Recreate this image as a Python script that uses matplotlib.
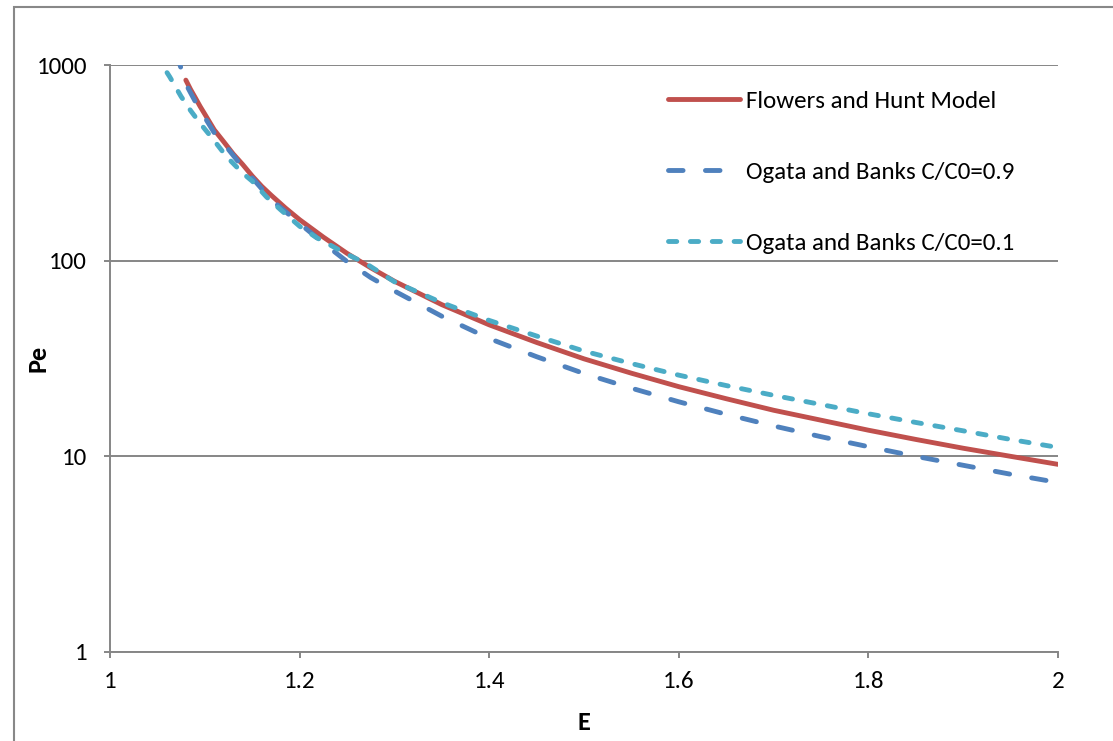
import matplotlib
matplotlib.use("Agg")
import matplotlib.pyplot as plt
from matplotlib.patches import Rectangle
from matplotlib.ticker import FixedLocator, NullLocator

plt.rcParams['font.family'] = ['Carlito', 'Lato', 'DejaVu Sans']

# Flowers and Hunt Model
E_fh = [1.08, 1.085, 1.09, 1.095, 1.10, 1.11, 1.12, 1.13, 1.14, 1.15, 1.16, 1.17, 1.185,
        1.20, 1.225, 1.25, 1.275, 1.30, 1.35, 1.40, 1.45, 1.50, 1.55, 1.60, 1.65,
        1.70, 1.75, 1.80, 1.85, 1.90, 1.95, 2.00]
Pe_fh = [837, 750, 680, 615, 561, 466, 405, 351, 310, 271, 240, 216, 186,
         162, 132, 109, 92, 78.5, 59.6, 47.0, 38.2, 31.5, 26.6, 22.7, 19.7,
         17.2, 15.3, 13.6, 12.2, 11.0, 10.0, 9.1]

# Ogata and Banks C/C0=0.9
E_ob9 = [1.07, 1.08, 1.09, 1.10, 1.11, 1.125, 1.14, 1.15, 1.17, 1.20, 1.225, 1.25,
         1.275, 1.30, 1.35, 1.40, 1.45, 1.50, 1.55, 1.60, 1.65, 1.70, 1.75, 1.80,
         1.85, 1.90, 1.95, 2.00]
Pe_ob9 = [1150, 800, 650, 540, 450, 370, 300, 265, 205, 155, 123, 99,
          82, 70, 52, 40, 32.3, 26.5, 22.3, 19.0, 16.4, 14.3, 12.6, 11.2,
          10.0, 9.0, 8.1, 7.35]

# Ogata and Banks C/C0=0.1
E_ob1 = [1.05, 1.055, 1.063, 1.075, 1.085, 1.095, 1.11, 1.123, 1.14, 1.15, 1.165,
         1.18, 1.20, 1.218, 1.25, 1.271, 1.30, 1.35, 1.40, 1.45, 1.50, 1.55, 1.60,
         1.65, 1.70, 1.75, 1.80, 1.85, 1.90, 1.95, 2.00]
Pe_ob1 = [1150, 1000, 870, 690, 585, 504, 410, 340, 280, 255, 212,
          182, 150, 131, 108, 96, 78, 61, 49.5, 41.2, 34.5, 29.8, 26.0,
          23.0, 20.5, 18.4, 16.5, 14.9, 13.5, 12.2, 11.1]

labels = ['Flowers and Hunt Model', 'Ogata and Banks C/C0=0.9', 'Ogata and Banks C/C0=0.1']
x_ticks = [1, 1.2, 1.4, 1.6, 1.8, 2]
x_tick_labels = ['1', '1.2', '1.4', '1.6', '1.8', '2']
y_ticks = [1, 10, 100, 1000]
y_tick_labels = ['1', '10', '100', '1000']

W, H = 1113, 741
fig = plt.figure(figsize=(W / 100, H / 100), dpi=100)
ax = fig.add_axes([110 / W, 1 - 652 / H, (1058 - 110) / W, (652 - 65) / H])

grid_c = '#868686'
ax.set_yscale('log')
ax.set_xlim(1, 2)
ax.set_ylim(1, 1000)

lw = 3.5
ax.plot(E_fh, Pe_fh, color='#C0504D', lw=lw, solid_capstyle='round', solid_joinstyle='round',
        label=labels[0], zorder=3)
ax.plot(E_ob9, Pe_ob9, color='#4F81BD', lw=lw, dashes=(3.0, 4.6), dash_capstyle='round',
        label=labels[1], zorder=4)
ax.plot(E_ob1, Pe_ob1, color='#4BACC6', lw=lw, dashes=(1.7, 2.8), dash_capstyle='round',
        label=labels[2], zorder=5)

ax.xaxis.set_major_locator(FixedLocator(x_ticks))
ax.set_xticklabels(x_tick_labels)
ax.yaxis.set_major_locator(FixedLocator(y_ticks))
ax.yaxis.set_minor_locator(NullLocator())
ax.set_yticklabels(y_tick_labels)

fs = 18
ax.grid(axis='y', color=grid_c, lw=1.4)
for s in ['top', 'right']:
    ax.spines[s].set_visible(False)
for s in ['left', 'bottom']:
    ax.spines[s].set_color(grid_c)
    ax.spines[s].set_linewidth(1.4)
ax.tick_params(axis='both', direction='out', length=4.5, width=1.4, color=grid_c,
               labelsize=fs, labelcolor='black')
ax.tick_params(axis='x', pad=9)
ax.tick_params(axis='y', pad=12)
ax.set_xlabel('E', fontsize=fs + 1, fontweight='bold')
ax.set_ylabel('Pe', fontsize=fs + 1, fontweight='bold')
ax.xaxis.set_label_coords(0.5, -0.100)
ax.yaxis.set_label_coords(-0.064, 0.5)

leg = ax.legend(loc='upper left', bbox_to_anchor=(0.589, 0.957), frameon=False,
                fontsize=fs, labelspacing=1.98, handlelength=2.85, handletextpad=0.25,
                borderaxespad=0, borderpad=0)

fig.patches.append(Rectangle((14 / W, -0.1), 1.2, 1 - 7 / H + 0.1, transform=fig.transFigure,
                             fill=False, edgecolor='#888888', lw=1.5, zorder=0))

fig.savefig('out.png', dpi=100)
